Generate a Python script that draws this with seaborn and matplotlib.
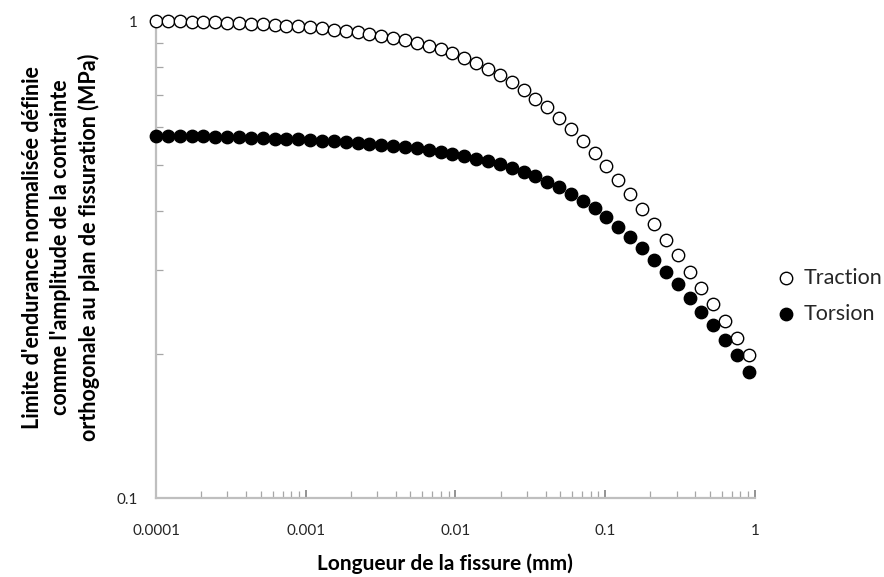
import numpy as np
import pandas as pd
import matplotlib
matplotlib.use("Agg")
import matplotlib.pyplot as plt
import seaborn as sns
from matplotlib.ticker import LogLocator, NullFormatter, FixedLocator, FixedFormatter

# ----------------------------------------------------------------------
# Data (crack length in mm, normalised limit)
# ----------------------------------------------------------------------
crack_length = [
    0.0001, 0.00012, 0.000144, 0.000173, 0.000207, 0.000249, 0.000299, 0.000358,
    0.00043, 0.000516, 0.000619, 0.000743, 0.000892, 0.00107, 0.00128, 0.00154,
    0.00185, 0.00222, 0.00266, 0.00319, 0.00383, 0.0046, 0.00552, 0.00662,
    0.00795, 0.00954, 0.0114, 0.0137, 0.0165, 0.0198, 0.0237, 0.0285,
    0.0342, 0.041, 0.0492, 0.059, 0.0708, 0.085, 0.102, 0.122,
    0.147, 0.176, 0.212, 0.254, 0.305, 0.366, 0.439, 0.527,
    0.632, 0.759, 0.91,
]

traction = [
    1.000, 0.999, 0.998, 0.997, 0.995, 0.993, 0.991, 0.989,
    0.987, 0.984, 0.981, 0.978, 0.975, 0.970, 0.965, 0.959,
    0.953, 0.947, 0.940, 0.932, 0.923, 0.913, 0.901, 0.888,
    0.872, 0.855, 0.836, 0.815, 0.793, 0.769, 0.745, 0.718,
    0.687, 0.659, 0.625, 0.593, 0.561, 0.528, 0.497, 0.464,
    0.434, 0.404, 0.375, 0.348, 0.323, 0.298, 0.276, 0.255,
    0.235, 0.216, 0.199,
]

torsion = [
    0.574, 0.575, 0.574, 0.573, 0.573, 0.572, 0.572, 0.571,
    0.569, 0.568, 0.567, 0.566, 0.565, 0.563, 0.561, 0.560,
    0.558, 0.556, 0.553, 0.550, 0.548, 0.544, 0.541, 0.537,
    0.532, 0.527, 0.521, 0.514, 0.508, 0.501, 0.493, 0.483,
    0.473, 0.460, 0.448, 0.434, 0.419, 0.405, 0.388, 0.370,
    0.352, 0.335, 0.316, 0.298, 0.281, 0.263, 0.246, 0.230,
    0.214, 0.199, 0.184,
]

x_ticks = [0.0001, 0.001, 0.01, 0.1, 1]
x_tick_labels = ["0.0001", "0.001", "0.01", "0.1", "1"]
y_ticks = [0.1, 1]
y_tick_labels = ["0.1", "1"]

# ----------------------------------------------------------------------
# Style
# ----------------------------------------------------------------------
sns.set_theme(style="white")
plt.rcParams["font.family"] = ["Lato", "DejaVu Sans"]

axis_grey = "#BFBFBF"
tick_grey = "#A6A6A6"

fig = plt.figure(figsize=(8.84, 5.77), dpi=100)
ax = fig.add_axes([0.1765, 0.1369, 0.6775, 0.8267])

sns.scatterplot(x=crack_length, y=traction, ax=ax, marker="o", s=80,
                color="white", edgecolor="black", linewidth=1.0,
                label="Traction", zorder=3, clip_on=False)
sns.scatterplot(x=crack_length, y=torsion, ax=ax, marker="o", s=80,
                color="black", edgecolor="black", linewidth=1.0,
                label="Torsion", zorder=3, clip_on=False)

ax.set_xscale("log")
ax.set_yscale("log")
ax.set_xlim(0.0001, 1)
ax.set_ylim(0.1, 1)

# ticks
ax.xaxis.set_major_locator(FixedLocator(x_ticks))
ax.xaxis.set_major_formatter(FixedFormatter(x_tick_labels))
ax.xaxis.set_minor_locator(LogLocator(base=10, subs=np.arange(2, 10)))
ax.xaxis.set_minor_formatter(NullFormatter())
ax.yaxis.set_major_locator(FixedLocator(y_ticks))
ax.yaxis.set_major_formatter(FixedFormatter(y_tick_labels))
ax.yaxis.set_minor_locator(LogLocator(base=10, subs=np.arange(2, 10)))
ax.yaxis.set_minor_formatter(NullFormatter())

ax.tick_params(which="major", direction="in", length=6, width=1.2,
               color="#808080", labelsize=11, labelcolor="#262626")
ax.tick_params(axis="x", which="major", pad=19)
ax.tick_params(axis="y", which="major", pad=13)
ax.tick_params(which="minor", direction="in", length=5, width=0.9,
               color=tick_grey)
ax.tick_params(axis="x", which="both", bottom=True)
ax.tick_params(axis="y", which="both", left=True)

for side in ["top", "right"]:
    ax.spines[side].set_visible(False)
for side in ["left", "bottom"]:
    ax.spines[side].set_color(axis_grey)
    ax.spines[side].set_linewidth(1.6)

ax.set_xlabel("Longueur de la fissure (mm)", fontsize=15, fontweight="bold",
              color="black")
ax.xaxis.set_label_coords(0.4825, -0.117)
ax.set_ylabel("Limite d'endurance normalisée définie\n"
              "comme l'amplitude de la contrainte\n"
              "orthogonale au plan de fissuration (MPa)",
              fontsize=15.5, fontweight="bold", color="black", linespacing=1.4)
ax.yaxis.set_label_coords(-0.093, 0.526)

ax.get_legend().remove()
handles, labels = ax.get_legend_handles_labels()
fig.legend(handles, labels, loc="center left", bbox_to_anchor=(0.86, 0.487),
           frameon=False, fontsize=15.5, handletextpad=0.0, labelspacing=0.75,
           markerscale=1.0, borderaxespad=0, handlelength=1.6)

fig.savefig("out.png", dpi=100)
